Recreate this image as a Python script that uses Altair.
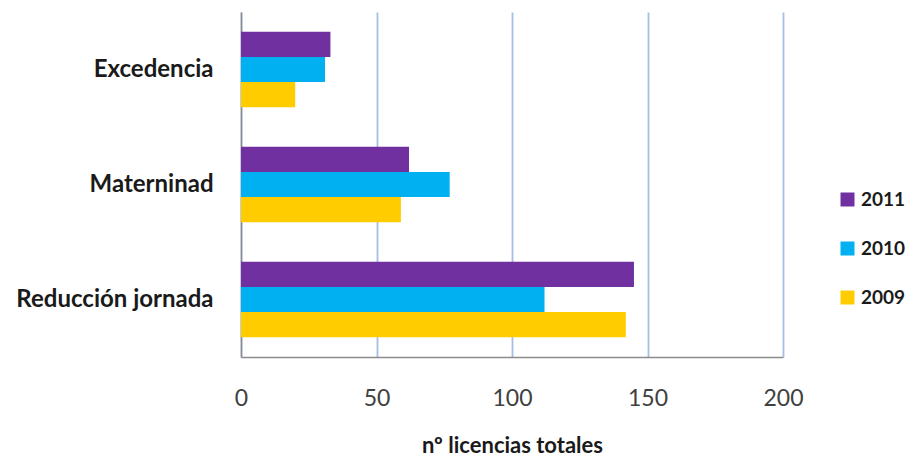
import altair as alt
import pandas as pd

categories = ["Excedencia", "Materninad", "Reducción jornada"]
years = ["2011", "2010", "2009"]
v2011 = [33, 62, 145]
v2010 = [31, 77, 112]
v2009 = [20, 59, 142]
colors = ["#7030a0", "#00b0f0", "#ffcc00"]
x_ticks = [0, 50, 100, 150, 200]

rows = []
for yr, vals in zip(years, [v2011, v2010, v2009]):
    for c, v in zip(categories, vals):
        rows.append({"categoria": c, "año": yr, "valor": v})
df = pd.DataFrame(rows)

chart = alt.Chart(df).mark_bar().encode(
    y=alt.Y("categoria:N", sort=categories,
            scale=alt.Scale(paddingInner=0.345, paddingOuter=0.1725),
            axis=alt.Axis(title=None, ticks=False, tickSize=0, domain=True,
                          domainColor="#8c8c8c", domainWidth=1.5,
                          labelFontSize=24, labelFontWeight="bold",
                          labelColor="#1a1a1a", labelPadding=28,
                          labelLimit=400, grid=False)),
    yOffset=alt.YOffset("año:N", sort=years, scale=alt.Scale(paddingInner=0, paddingOuter=0)),
    x=alt.X("valor:Q", scale=alt.Scale(domain=[0, 200], nice=False),
            axis=alt.Axis(title="nº licencias totales", values=x_ticks,
                          ticks=False, tickSize=0, domain=True,
                          domainColor="#8c8c8c", domainWidth=1.5,
                          grid=True, gridColor="#a6bde6", gridWidth=1.8,
                          labelFontSize=23, labelColor="#404040",
                          labelFlush=False,
                          labelPadding=30, titleFontSize=22,
                          titleFontWeight="bold", titleColor="#1a1a1a",
                          titlePadding=25)),
    color=alt.Color("año:N", sort=years,
                    scale=alt.Scale(domain=years, range=colors),
                    legend=alt.Legend(title=None, orient="none", legendX=597,
                                      legendY=178, symbolType="square",
                                      symbolSize=196, symbolStrokeWidth=0,
                                      labelFontSize=19, labelFontWeight="bold",
                                      labelColor="#1a1a1a", rowPadding=29,
                                      labelOffset=4)),
).properties(
    width=542, height=345,
    autosize=alt.AutoSizeParams(type="none"),
    padding={"left": 233, "top": 4, "right": 129, "bottom": 100},
).configure(font="Lato").configure_view(stroke=None)

chart.save("out.html", embed_options={"renderer": "svg", "actions": False})
